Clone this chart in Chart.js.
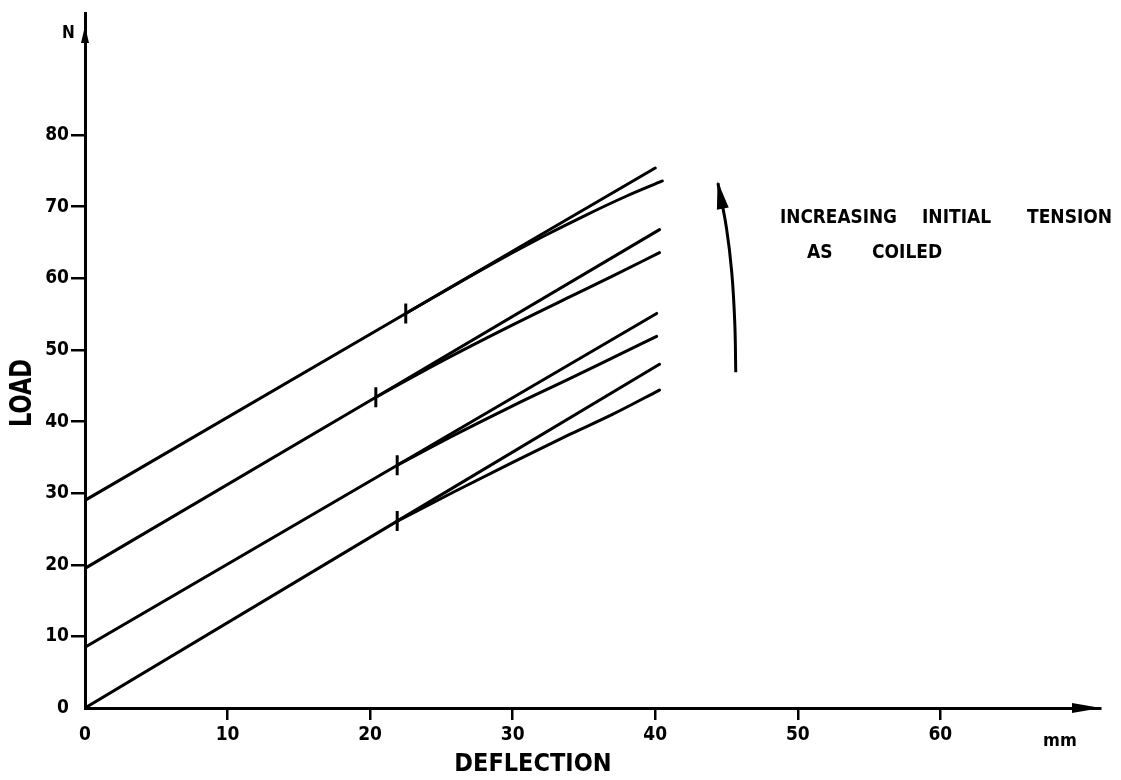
<!DOCTYPE html>
<html>
<head>
<meta charset="utf-8">
<script src="https://cdn.jsdelivr.net/npm/chart.js@4.4.1/dist/chart.umd.min.js"></script>
<style>
  html, body { margin: 0; padding: 0; background: #fff; }
  #wrap { width: 1121px; height: 780px; position: relative; }
</style>
</head>
<body>
<div id="wrap"><canvas id="chart"></canvas></div>
<script>
// Data
const xTicks = [0, 10, 20, 30, 40, 50, 60];
const yTicks = [0, 10, 20, 30, 40, 50, 60, 70, 80];

// straight lines (initial tension -> straight continuation)
const line1X = [0, 22.5, 40.0];
const line1Y = [29, 55.1, 75.4];
const line2X = [0, 20.4, 40.3];
const line2Y = [19.5, 43.4, 66.8];
const line3X = [0, 21.9, 40.1];
const line3Y = [8.5, 33.9, 55.1];
const line4X = [0, 21.9, 40.3];
const line4Y = [0, 26.1, 48.0];

// curved branches starting at the break points
const branch1X = [22.5, 28, 32, 35, 38, 40.5];
const branch1Y = [55.1, 61.4, 65.7, 68.7, 71.5, 73.6];
const branch2X = [20.4, 25, 30, 34, 37, 40.3];
const branch2Y = [43.4, 48.4, 53.5, 57.4, 60.3, 63.6];
const branch3X = [21.9, 26, 30, 34, 37, 40.1];
const branch3Y = [33.9, 38.2, 42.2, 46.0, 48.9, 51.9];
const branch4X = [21.9, 26, 30, 34, 37, 40.3];
const branch4Y = [26.1, 30.3, 34.3, 38.2, 41.0, 44.4];

// break marks
const breakX = [22.5, 20.4, 21.9, 21.9];
const breakY = [55.1, 43.4, 33.9, 26.1];

// "increasing" arrow shaft
const arrowX = [45.65, 45.58, 45.37, 45.0, 44.4];
const arrowY = [46.9, 53.8, 60.8, 67.0, 73.3];

const FONT = "'DejaVu Sans Condensed', 'DejaVu Sans', sans-serif";

function pts(xs, ys) {
    return xs.map((x, i) => ({ x: x, y: ys[i] }));
}

function lineSet(xs, ys, curved) {
    return {
        data: pts(xs, ys),
        borderColor: '#000',
        borderWidth: 3,
        pointRadius: 0,
        tension: curved ? 0.4 : 0,
        cubicInterpolationMode: curved ? 'monotone' : 'default',
        borderCapStyle: 'round',
        fill: false
    };
}

// texts and arrow heads
const drawExtras = {
    id: 'drawExtras',
    afterDraw(chart) {
        const ctx = chart.ctx;
        const xs = chart.scales.x;
        const ys = chart.scales.y;
        const area = chart.chartArea;
        ctx.save();
        ctx.fillStyle = '#000';

        // y axis arrow head
        ctx.beginPath();
        ctx.moveTo(area.left, 26);
        ctx.lineTo(area.left - 4, 43);
        ctx.lineTo(area.left + 4, 43);
        ctx.closePath();
        ctx.fill();

        // x axis arrow head
        ctx.beginPath();
        ctx.moveTo(area.right + 1, ys.getPixelForValue(0));
        ctx.lineTo(area.right - 28, ys.getPixelForValue(0) - 5);
        ctx.lineTo(area.right - 28, ys.getPixelForValue(0) + 5);
        ctx.closePath();
        ctx.fill();

        // curved arrow head
        const n = arrowX.length;
        const tx = xs.getPixelForValue(arrowX[n - 1]);
        const ty = ys.getPixelForValue(arrowY[n - 1]);
        const px = xs.getPixelForValue(arrowX[n - 2]);
        const py = ys.getPixelForValue(arrowY[n - 2]);
        const ang = Math.atan2(ty - py, tx - px);
        ctx.save();
        ctx.translate(tx - Math.cos(ang) * 2, ty - Math.sin(ang) * 2);
        ctx.rotate(ang);
        ctx.beginPath();
        ctx.moveTo(4, 0);
        ctx.lineTo(-24, -6);
        ctx.lineTo(-24, 6);
        ctx.closePath();
        ctx.fill();
        ctx.restore();

        ctx.textBaseline = 'middle';
        ctx.textAlign = 'left';

        ctx.font = 'bold 17px ' + FONT;
        ctx.fillText('N', 62, 34, 14);

        ctx.font = 'bold 18px ' + FONT;
        ctx.fillText('mm', 1043, 741, 36);

        ctx.font = 'bold 19px ' + FONT;
        ctx.fillText('INCREASING', 780, 218, 117);
        ctx.fillText('INITIAL', 922, 218, 76);
        ctx.fillText('TENSION', 1027, 218, 86);
        ctx.fillText('AS', 807, 253, 28);
        ctx.fillText('COILED', 872, 253, 71);

        ctx.textAlign = 'center';
        ctx.font = 'bold 25px ' + FONT;
        ctx.fillText('DEFLECTION', 533, 764, 161);

        ctx.save();
        ctx.translate(23, 393);
        ctx.rotate(-Math.PI / 2);
        ctx.font = 'bold 30px ' + FONT;
        ctx.fillText('LOAD', 0, 0, 68);
        ctx.restore();

        ctx.restore();
    }
};

new Chart(document.getElementById('chart'), {
    type: 'line',
    data: {
        datasets: [
            lineSet(line1X, line1Y, false),
            lineSet(line2X, line2Y, false),
            lineSet(line3X, line3Y, false),
            lineSet(line4X, line4Y, false),
            lineSet(branch1X, branch1Y, true),
            lineSet(branch2X, branch2Y, true),
            lineSet(branch3X, branch3Y, true),
            lineSet(branch4X, branch4Y, true),
            {
                data: pts(breakX, breakY),
                showLine: false,
                pointStyle: 'line',
                rotation: 90,
                pointRadius: 10,
                pointBorderWidth: 3,
                pointBorderColor: '#000',
                borderColor: '#000'
            },
            {
                data: pts(arrowX, arrowY),
                borderColor: '#000',
                borderWidth: 3,
                pointRadius: 0,
                tension: 0.4,
                fill: false
            }
        ]
    },
    options: {
        responsive: true,
        maintainAspectRatio: false,
        animation: false,
        layout: { padding: { top: 10, right: 21, left: 0, bottom: 0 } },
        plugins: {
            legend: { display: false },
            tooltip: { enabled: false }
        },
        scales: {
            x: {
                type: 'linear',
                min: 0,
                max: 71.2,
                afterBuildTicks: s => { s.ticks = xTicks.map(v => ({ value: v })); },
                afterFit: s => { s.height = 72; },
                ticks: {
                    color: '#000',
                    font: { family: FONT, size: 19, weight: 'bold' },
                    padding: 4,
                    maxRotation: 0,
                    autoSkip: false
                },
                grid: {
                    drawOnChartArea: false,
                    drawTicks: true,
                    tickLength: 12,
                    lineWidth: 2.5,
                    color: '#000',
                    tickColor: ctx => (ctx.tick && ctx.tick.value === 0) ? 'rgba(0,0,0,0)' : '#000'
                },
                border: { color: '#000', width: 3 }
            },
            y: {
                min: 0,
                max: 97,
                afterBuildTicks: s => { s.ticks = yTicks.map(v => ({ value: v })); },
                afterFit: s => { s.width = 85; },
                ticks: {
                    color: '#000',
                    font: { family: FONT, size: 19, weight: 'bold' },
                    padding: 2
                },
                grid: {
                    drawOnChartArea: false,
                    drawTicks: true,
                    tickLength: 14,
                    lineWidth: 2.5,
                    color: '#000',
                    tickColor: ctx => (ctx.tick && ctx.tick.value === 0) ? 'rgba(0,0,0,0)' : '#000'
                },
                border: { color: '#000', width: 3 }
            }
        }
    },
    plugins: [drawExtras]
});
</script>
</body>
</html>
